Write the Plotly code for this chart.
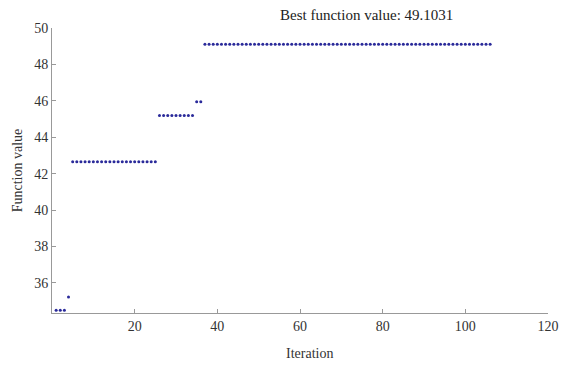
import plotly.graph_objects as go

# Data (iteration -> best function value)
iter_a = [1, 2, 3]
val_a = [34.5, 34.5, 34.5]
iter_b = [4]
val_b = [35.23]
iter_c = list(range(5, 26))
val_c = [42.65] * len(iter_c)
iter_d = list(range(26, 35))
val_d = [45.2] * len(iter_d)
iter_e = [35, 36]
val_e = [45.95, 45.95]
iter_f = list(range(37, 107))
val_f = [49.1031] * len(iter_f)

iterations = iter_a + iter_b + iter_c + iter_d + iter_e + iter_f
values = val_a + val_b + val_c + val_d + val_e + val_f

x_ticks = [20, 40, 60, 80, 100, 120]
y_ticks = [36, 38, 40, 42, 44, 46, 48, 50]
title_text = "Best function value: 49.1031"
x_label = "Iteration"
y_label = "Function value"

FONT = "Liberation Serif, Times New Roman, serif"
# page body has an 8px margin, so the figure is offset by 8px
OFF = 8
W, H = 574 - OFF, 366 - OFF
L, T = 52 - OFF, 28 - OFF
R, B = 574 - 548, 366 - 313
pw = W - L - R
ph = H - T - B

fig = go.Figure()
fig.add_trace(go.Scatter(
    x=iterations, y=values, mode="markers",
    marker=dict(color="#2a2a9a", size=3, symbol="circle"),
    showlegend=False,
))

fig.update_layout(
    width=W, height=H,
    margin=dict(l=L, r=R, t=T, b=B, autoexpand=False),
    paper_bgcolor="white", plot_bgcolor="white",
    font=dict(family=FONT, size=14, color="#333"),
    annotations=[
        dict(
            text=title_text, x=(366 - OFF - L) / pw, y=(H - B - (15 - OFF)) / ph,
            xref="paper", yref="paper", xanchor="center", yanchor="middle",
            showarrow=False, font=dict(family=FONT, size=15, color="#222"),
        ),
        dict(
            text=x_label, x=(309 - OFF - L) / pw, y=(H - B - (353 - OFF)) / ph,
            xref="paper", yref="paper", xanchor="center", yanchor="middle",
            showarrow=False, font=dict(family=FONT, size=14, color="#333"),
        ),
    ],
)

fig.update_xaxes(
    range=[0, 120], tickvals=x_ticks, ticktext=[str(v) for v in x_ticks],
    automargin=False,
    showgrid=False, zeroline=False, showline=True, linecolor="#999", linewidth=1,
    ticks="inside", ticklen=4, tickcolor="#999",
    tickfont=dict(family=FONT, size=14, color="#333"),
)
fig.update_yaxes(
    range=[34.35, 50], tickvals=y_ticks, ticktext=[str(v) for v in y_ticks],
    automargin=False,
    showgrid=False, zeroline=False, showline=True, linecolor="#999", linewidth=1,
    ticks="inside", ticklen=4, tickcolor="#999",
    title=dict(text=y_label, font=dict(family=FONT, size=14, color="#333"), standoff=8),
    tickfont=dict(family=FONT, size=14, color="#333"),
)

fig.write_html("out.html")
